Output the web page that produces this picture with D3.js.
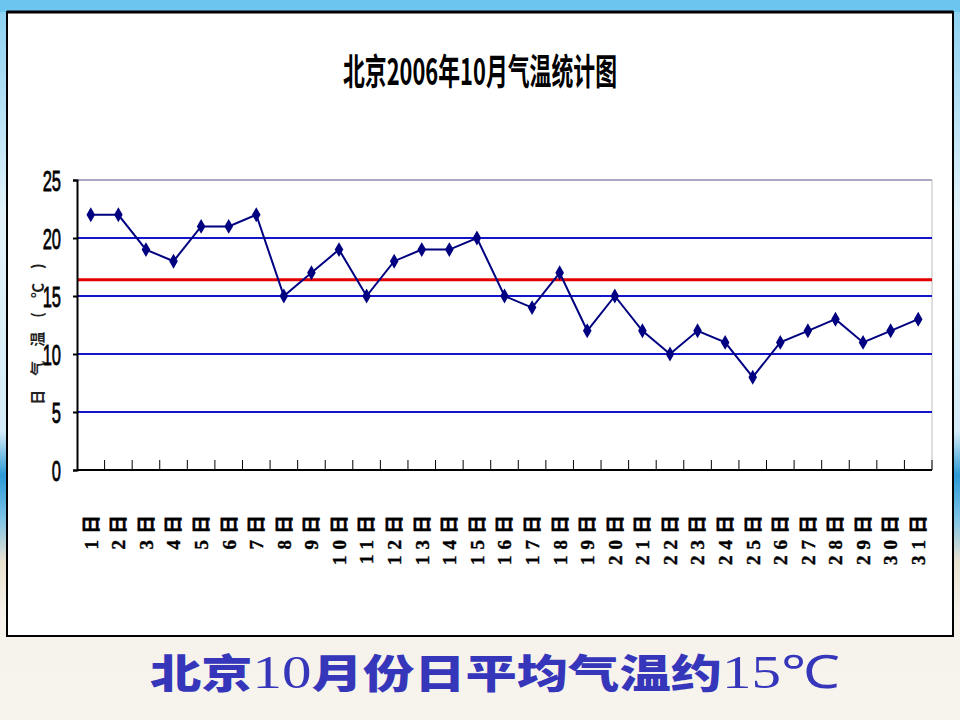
<!DOCTYPE html>
<html>
<head>
<meta charset="utf-8">
<script src="https://cdn.jsdelivr.net/npm/d3@7"></script>
<style>
  html, body { margin: 0; padding: 0; background: #f6f2ea; }
  svg { display: block; }
</style>
</head>
<body>
<script>
const width = 960;
const height = 720;
const margin = { left: 77, right: 28, top: 180, bottom: 250 };

// data
const days = d3.range(1, 32);
const dayLabels = days.map(d => d + "日");
const temps = [22, 22, 19, 18, 21, 21, 22, 15, 17, 19, 15, 18, 19, 19, 20, 15,
  14, 17, 12, 15, 12, 10, 12, 11, 8, 11, 12, 13, 11, 12, 13];
const yTicks = [0, 5, 10, 15, 20, 25];
const gridValues = [5, 10, 15, 20];
const avgLine = 16.4;
const title = "北京2006年10月气温统计图";
const yLabel = "日气温(℃)";
// caption split so the numbers can take the thin serif face
const captionParts = ["北京", "10", "月份日平均气温约", "15℃"];

const svg = d3.select("body")
  .append("svg")
  .attr("width", width)
  .attr("height", height);

// slide background
const defs = svg.append("defs");
const bg = defs.append("linearGradient")
  .attr("id", "bg")
  .attr("x1", 0).attr("y1", 0).attr("x2", 0).attr("y2", 1);
[[0, "#62c0ee"], [0.02, "#8fd2f2"], [0.3, "#e4f3fa"], [0.6, "#d4ecf8"],
 [0.66, "#2b9ad6"], [0.72, "#7cc3e6"], [0.78, "#e9e2d0"], [0.85, "#f6f2ea"], [1, "#f7f4ee"]]
  .forEach(s => bg.append("stop").attr("offset", s[0]).attr("stop-color", s[1]));

svg.append("rect")
  .attr("width", width)
  .attr("height", height)
  .attr("fill", "url(#bg)");

svg.append("rect")
  .attr("x", 0).attr("y", 0)
  .attr("width", width).attr("height", 12)
  .attr("fill", "#6cc5ef");

// white chart panel
svg.append("rect")
  .attr("x", 7).attr("y", 12)
  .attr("width", 946).attr("height", 624)
  .attr("fill", "white")
  .attr("stroke", "black")
  .attr("stroke-width", 2);
svg.append("line")
  .attr("x1", 7).attr("x2", 953)
  .attr("y1", 12).attr("y2", 12)
  .attr("stroke", "black")
  .attr("stroke-width", 3);

svg.append("text")
  .attr("x", 480)
  .attr("y", 85)
  .attr("text-anchor", "middle")
  .attr("font-family", "'Noto Sans CJK SC', sans-serif")
  .attr("font-weight", "bold")
  .attr("font-size", 36)
  .attr("textLength", 274)
  .attr("lengthAdjust", "spacingAndGlyphs")
  .attr("fill", "black")
  .text(title);

const xScale = d3.scaleBand()
  .domain(days)
  .range([margin.left, width - margin.right])
  .padding(0);

const yScale = d3.scaleLinear()
  .domain([0, 25])
  .range([height - margin.bottom, margin.top]);

const x0 = margin.left;
const x1 = width - margin.right;

// gray top and right border of plot area
svg.append("line")
  .attr("x1", x0).attr("x2", x1)
  .attr("y1", yScale(25)).attr("y2", yScale(25))
  .attr("stroke", "#a9a9c6")
  .attr("stroke-width", 2);
svg.append("line")
  .attr("x1", x1).attr("x2", x1)
  .attr("y1", yScale(25)).attr("y2", yScale(0))
  .attr("stroke", "#bdbdbd")
  .attr("stroke-width", 1);

svg.selectAll(".grid")
  .data(gridValues)
  .enter()
  .append("line")
  .attr("class", "grid")
  .attr("x1", x0).attr("x2", x1)
  .attr("y1", d => yScale(d))
  .attr("y2", d => yScale(d))
  .attr("stroke", "#1414cc")
  .attr("stroke-width", 2);

svg.append("line")
  .attr("x1", x0).attr("x2", x1)
  .attr("y1", yScale(avgLine)).attr("y2", yScale(avgLine))
  .attr("stroke", "#e30000")
  .attr("stroke-width", 3);

// y axis
const yAxis = svg.append("g")
  .attr("transform", `translate(${x0},0)`)
  .call(d3.axisLeft(yScale).tickValues(yTicks).tickSize(4).tickPadding(0));
yAxis.select(".domain").attr("stroke", "black").attr("stroke-width", 2);
yAxis.selectAll(".tick line").attr("stroke", "black").attr("stroke-width", 2);
yAxis.selectAll(".tick text")
  .attr("x", 0)
  .attr("dy", "0.36em")
  .attr("transform", "translate(-16,0) scale(0.55,1)")
  .attr("font-family", "'Liberation Sans', Arial, sans-serif")
  .attr("font-size", 30)
  .attr("fill", "black")
  .attr("stroke", "black")
  .attr("stroke-width", 0.8)
  .attr("text-anchor", "end");

svg.append("text")
  .attr("transform", `translate(38,${(yScale(0) + yScale(25)) / 2 + 2}) rotate(-90)`)
  .attr("text-anchor", "middle")
  .attr("dy", "0.35em")
  .attr("font-family", "'Noto Sans CJK SC', sans-serif")
  .attr("font-weight", "bold")
  .attr("font-size", 15)
  .attr("letter-spacing", 14)
  .attr("fill", "#222")
  .text(yLabel);

// x axis with category boundary ticks
svg.append("line")
  .attr("x1", x0).attr("x2", x1)
  .attr("y1", yScale(0)).attr("y2", yScale(0))
  .attr("stroke", "black")
  .attr("stroke-width", 2);

svg.selectAll(".xtick")
  .data(days.slice(1).concat([null]))
  .enter()
  .append("line")
  .attr("class", "xtick")
  .attr("x1", d => d === null ? x1 : xScale(d))
  .attr("x2", d => d === null ? x1 : xScale(d))
  .attr("y1", yScale(0))
  .attr("y2", yScale(0) - 10)
  .attr("stroke", "black")
  .attr("stroke-width", 1);

svg.selectAll(".xlabel")
  .data(days)
  .enter()
  .append("text")
  .attr("class", "xlabel")
  .attr("transform", d => `translate(${xScale(d) + xScale.bandwidth() / 2},509) rotate(-90)`)
  .attr("text-anchor", "end")
  .attr("dy", "0.36em")
  .attr("font-family", "'Liberation Serif', 'Noto Sans CJK SC', serif")
  .attr("font-weight", "bold")
  .attr("font-size", 19)
  .attr("letter-spacing", 6)
  .attr("fill", "black")
  .attr("stroke", "black")
  .attr("stroke-width", 0.4)
  .text((d, i) => dayLabels[i]);

// temperature line
const line = d3.line()
  .x((d, i) => xScale(days[i]) + xScale.bandwidth() / 2)
  .y(d => yScale(d));

svg.append("path")
  .datum(temps)
  .attr("d", line)
  .attr("fill", "none")
  .attr("stroke", "#000080")
  .attr("stroke-width", 2);

svg.selectAll(".marker")
  .data(temps)
  .enter()
  .append("path")
  .attr("class", "marker")
  .attr("transform", (d, i) => `translate(${xScale(days[i]) + xScale.bandwidth() / 2},${yScale(d)})`)
  .attr("d", d3.symbol(d3.symbolDiamond, 64))
  .attr("fill", "#000080");

// caption under the chart
const cap = svg.append("text")
  .attr("x", 495)
  .attr("y", 688)
  .attr("text-anchor", "middle")
  .attr("font-size", 40)
  .attr("textLength", 690)
  .attr("lengthAdjust", "spacingAndGlyphs")
  .attr("fill", "#3636bb");

cap.selectAll("tspan")
  .data(captionParts)
  .enter()
  .append("tspan")
  .attr("font-family", (d, i) => i % 2 ? "'Liberation Serif', serif" : "'Noto Sans CJK SC', sans-serif")
  .attr("font-weight", (d, i) => i % 2 ? "normal" : "900")
  .attr("font-size", (d, i) => i % 2 ? 46 : 40)
  .text(d => d);
</script>
</body>
</html>
